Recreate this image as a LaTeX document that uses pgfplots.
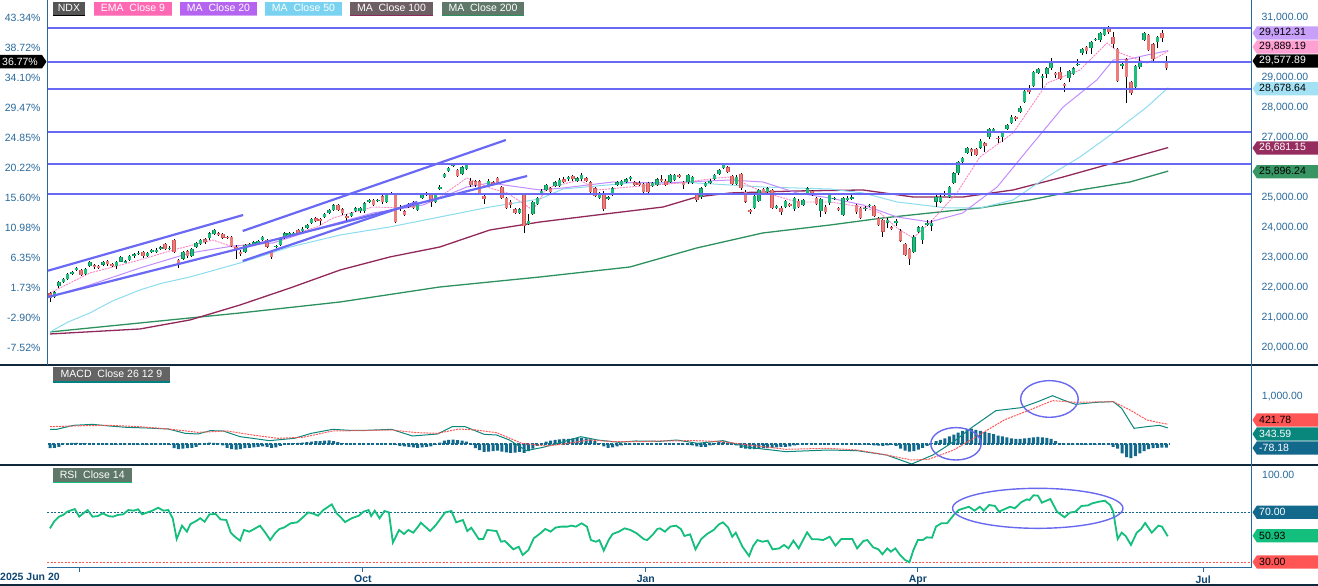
\documentclass[border=0pt]{standalone}
\usepackage{fontspec}
\setmainfont{Liberation Sans}
\usepackage{pgfplots}
\usepackage{pgfplotstable}
\pgfplotsset{compat=1.18}
\newcommand{\lab}{\fontsize{10.5bp}{12bp}\selectfont}
\definecolor{axblue}{RGB}{40,105,155}
\definecolor{xlab}{RGB}{15,70,115}
\definecolor{sep}{RGB}{15,40,60}
\definecolor{hl}{RGB}{105,105,245}
\definecolor{cup}{RGB}{30,190,125}
\definecolor{cupd}{RGB}{15,140,90}
\definecolor{cdn}{RGB}{235,125,125}
\definecolor{cdnd}{RGB}{205,85,85}
\definecolor{ema}{RGB}{255,130,195}
\definecolor{ma20}{RGB}{195,140,255}
\definecolor{ma50}{RGB}{140,220,240}
\definecolor{ma100}{RGB}{145,40,90}
\definecolor{ma200}{RGB}{45,145,95}
\definecolor{macdc}{RGB}{10,135,125}
\definecolor{sigc}{RGB}{255,85,85}
\definecolor{histc}{RGB}{18,105,140}
\definecolor{rsic}{RGB}{20,190,125}
\definecolor{ell}{RGB}{105,105,240}
\definecolor{bx20}{RGB}{200,160,250}
\definecolor{bxema}{RGB}{255,160,210}
\definecolor{bx50}{RGB}{165,225,245}
\definecolor{bx100}{RGB}{150,45,95}
\definecolor{bx200}{RGB}{55,150,100}
\definecolor{lgndx}{RGB}{85,85,85}
\definecolor{lgema}{RGB}{255,105,180}
\definecolor{lgma20}{RGB}{180,100,240}
\definecolor{lgma50}{RGB}{120,210,240}
\definecolor{lgma100}{RGB}{110,95,100}
\definecolor{lgma200}{RGB}{95,120,105}
\definecolor{macdlab}{RGB}{100,100,100}
\definecolor{rsilab}{RGB}{95,120,105}
\definecolor{teal2}{RGB}{0,128,128}

\pgfplotstableread{
i o h l c
0 21820 21850 21540 21660
1 21690 21900 21650 21850
2 22050 22230 21990 22190
3 22190 22340 22150 22300
4 22300 22500 22260 22460
5 22470 22580 22420 22530
6 22600 22700 22560 22660
7 22600 22640 22390 22430
8 22460 22680 22420 22630
9 22730 22900 22690 22860
10 22750 22800 22620 22690
11 22730 22780 22640 22690
12 22780 22900 22720 22860
13 22890 22940 22740 22800
14 22790 22830 22700 22750
15 22730 22900 22620 22860
16 22880 23080 22850 23030
17 22860 22930 22820 22880
18 22920 23110 22890 23070
19 23050 23160 23010 23120
20 23150 23240 23100 23170
21 23190 23230 23000 23050
22 23070 23200 23030 23160
23 23230 23290 23180 23250
24 23190 23320 23150 23280
25 23290 23390 23250 23350
26 23470 23510 23250 23290
27 23310 23390 23260 23330
28 23600 23640 23170 23210
29 22930 22970 22660 22770
30 22980 23230 22940 23190
31 23220 23260 23000 23050
32 23070 23340 23030 23300
33 23370 23540 23330 23500
34 23460 23640 23420 23600
35 23620 23680 23480 23520
36 23650 23860 23610 23820
37 23800 23980 23760 23930
38 23820 23860 23740 23780
39 23790 23830 23640 23680
40 23700 23740 23640 23680
41 23690 23730 23360 23400
42 23380 23420 22960 23270
43 23210 23250 23080 23120
44 23210 23470 23170 23430
45 23440 23510 23400 23470
46 23470 23560 23430 23520
47 23490 23610 23450 23570
48 23600 23730 23560 23690
49 23600 23640 23340 23380
50 23210 23250 22960 23020
51 23380 23440 23340 23400
52 23430 23660 23390 23620
53 23660 23860 23620 23820
54 23800 23860 23770 23820
55 23800 23860 23770 23820
56 23930 23970 23790 23820
57 23890 24020 23850 23980
58 24010 24140 23970 24100
59 24160 24340 24120 24300
60 24320 24360 24200 24230
61 24300 24340 24100 24220
62 24370 24500 24330 24460
63 24490 24640 24450 24600
64 24600 24790 24560 24750
65 24760 24800 24560 24600
66 24620 24660 24420 24490
67 24410 24450 24220 24320
68 24410 24530 24370 24490
69 24580 24690 24540 24650
70 24550 24710 24510 24670
71 24550 24860 24510 24820
72 24880 24970 24840 24930
73 24930 24970 24730 24770
74 24920 24980 24880 24940
75 25050 25090 24800 24850
76 24860 25160 24820 25120
77 25120 25190 25090 25140
78 25100 25140 24170 24210
79 24620 24750 24580 24710
80 24550 24590 24390 24430
81 24690 24830 24650 24790
82 24860 24900 24620 24660
83 24600 24840 24560 24800
84 24990 25170 24950 25130
85 25100 25190 25060 25150
86 25100 25140 24700 24860
87 24860 25140 24820 25100
88 25290 25420 25250 25380
89 25690 25840 25650 25800
90 25910 26030 25870 25990
91 26080 26180 26040 26130
92 25930 25970 25690 25730
93 25800 26060 25760 26020
94 25960 26140 25920 26100
95 25580 25650 25380 25420
96 25550 25590 25350 25430
97 25550 25590 25120 25160
98 25070 25110 24800 24960
99 25430 25620 25390 25580
100 25520 25560 25430 25470
101 25660 25700 25450 25490
102 25360 25400 24950 24990
103 24990 25030 24620 24660
104 24880 24920 24650 24770
105 24620 24660 24450 24490
106 24490 24660 24450 24620
107 25100 25140 23840 24050
108 24130 24450 24090 24230
109 24460 24900 24420 24860
110 24790 25030 24750 24990
111 25150 25300 25100 25240
112 25270 25480 25220 25430
113 25320 25360 25150 25210
114 25410 25570 25370 25520
115 25410 25650 25370 25600
116 25620 25700 25500 25540
117 25620 25740 25560 25690
118 25730 25780 25570 25620
119 25580 25700 25530 25650
120 25620 25820 25580 25770
121 25650 25700 25530 25580
122 25520 25560 25170 25210
123 25320 25360 25020 25070
124 24990 25200 24950 25150
125 25180 25220 24580 24620
126 24980 25070 24930 25020
127 25120 25360 25080 25320
128 25430 25560 25390 25520
129 25430 25610 25390 25570
130 25540 25660 25500 25620
131 25620 25730 25580 25690
132 25520 25560 25390 25430
133 25510 25550 25390 25430
134 25460 25500 25100 25210
135 25490 25530 25170 25210
136 25410 25530 25370 25490
137 25430 25660 25390 25620
138 25620 25750 25540 25580
139 25580 25620 25390 25430
140 25540 25810 25500 25770
141 25600 25810 25560 25770
142 25770 25810 25670 25710
143 25540 25580 25300 25430
144 25520 25810 25480 25770
145 25490 25730 25450 25690
146 25120 25160 24870 24930
147 25020 25360 24980 25320
148 25410 25530 25370 25490
149 25490 25620 25450 25580
150 25630 25810 25590 25770
151 25800 25970 25760 25930
152 25990 26150 25950 26100
153 26020 26060 25820 25860
154 25730 25770 25430 25470
155 25470 25750 25430 25710
156 25800 25840 25280 25320
157 25210 25250 24840 24880
158 24600 24640 24450 24520
159 24660 25110 24620 25070
160 24910 25310 24870 25270
161 25300 25340 25120 25160
162 25190 25360 25150 25320
163 25270 25310 24620 24660
164 24660 24770 24620 24730
165 24680 24720 24430 24540
166 24710 24940 24670 24900
167 24790 24830 24700 24740
168 24620 25030 24580 24990
169 24910 24950 24650 24690
170 24770 24970 24730 24930
171 25160 25360 25120 25320
172 25240 25280 25060 25100
173 24990 25030 24760 24800
174 24570 25010 24370 24970
175 24710 24750 24480 24520
176 24820 25140 24780 25100
177 24980 25040 24940 25000
178 24660 24700 24560 24600
179 24430 25030 24390 24990
180 24930 25060 24890 24990
181 24970 25100 24930 25020
182 24770 24810 24480 24520
183 24660 24700 24300 24340
184 24620 24720 24580 24680
185 24740 24800 24700 24760
186 24730 24770 24370 24410
187 24320 24360 24060 24100
188 24270 24310 23700 23880
189 24180 24340 24000 24270
190 24020 24060 23920 23960
191 24160 24300 24080 24230
192 23910 23950 23540 23580
193 23460 23500 23060 23100
194 23300 23340 22760 22960
195 23190 23750 23150 23710
196 23860 24060 23820 24020
197 23600 24080 23450 24040
198 24100 24250 24060 24180
199 24080 24270 23900 24160
200 24880 25090 24700 25040
201 24880 25090 24830 25040
202 25100 25220 25050 25180
203 25040 25400 25000 25360
204 25490 25860 25450 25820
205 25820 26230 25780 26190
206 26210 26380 26170 26330
207 26510 26700 26470 26660
208 26620 26660 26400 26540
209 26630 26670 26390 26430
210 26680 26950 26640 26910
211 26820 26860 26520 26740
212 27040 27330 26980 27290
213 27240 27330 27150 27290
214 27010 27050 26830 26960
215 27040 27220 26860 27180
216 27290 27470 27250 27430
217 27490 27750 27450 27710
218 27690 27730 27580 27620
219 27860 28050 27820 28010
220 28190 28610 28150 28570
221 28600 28750 28480 28520
222 28730 29230 28690 29190
223 29160 29330 29120 29290
224 29030 29130 28600 29060
225 29130 29360 29000 29320
226 29320 29650 29280 29540
227 29160 29200 29000 29100
228 29210 29370 28920 28960
229 28800 28840 28530 28740
230 28990 29280 28880 29240
231 29130 29360 29090 29320
232 29450 29620 29400 29470
233 29820 30000 29780 29960
234 30040 30080 29800 29910
235 29990 30230 29800 30190
236 30280 30340 30230 30300
237 30270 30530 30200 30490
238 30430 30670 30390 30620
239 30690 30740 30480 30520
240 30360 30520 30000 30120
241 29960 30000 28870 28910
242 29400 29530 29300 29470
243 29620 29660 28160 29040
244 28860 28900 28420 28490
245 28690 29440 28650 29400
246 29360 29700 29300 29580
247 30270 30530 30230 30490
248 30430 30470 29890 29930
249 30120 30160 29580 29620
250 30210 30400 29990 30360
251 30490 30600 30200 30320
252 29550 29730 29250 29330
}\candles

\pgfplotstableread{
i v
0 -90
1 -80
2 -60
3 10
4 20
5 25
6 25
7 20
8 15
9 10
10 5
11 -5
12 -10
13 -10
14 -15
15 -15
16 -10
17 -10
18 -10
19 -10
20 -15
21 -15
22 -15
23 -15
24 -10
25 -10
26 -5
27 -20
28 -90
29 -110
30 -100
31 -90
32 -80
33 -60
34 -10
35 10
36 30
37 25
38 10
39 -30
40 -80
41 -110
42 -120
43 -110
44 -90
45 -80
46 -70
47 -60
48 -50
49 -60
50 -80
51 -70
52 -40
53 -10
54 10
55 20
56 25
57 30
58 40
59 50
60 60
61 60
62 70
63 75
64 60
65 40
66 20
67 10
68 5
69 5
70 0
71 -5
72 5
73 0
74 5
75 -5
76 5
77 5
78 -20
79 -40
80 -50
81 -60
82 -70
83 -80
84 -70
85 -60
86 -50
87 -20
88 30
89 70
90 90
91 95
92 80
93 70
94 50
95 -20
96 -90
97 -130
98 -170
99 -160
100 -150
101 -140
102 -160
103 -180
104 -190
105 -185
106 -170
107 -190
108 -150
109 -100
110 -40
111 20
112 50
113 70
114 90
115 100
116 110
117 110
118 120
119 125
120 130
121 120
122 100
123 60
124 20
125 -50
126 -80
127 -70
128 -50
129 -30
130 -20
131 -10
132 -5
133 5
134 -5
135 5
136 0
137 5
138 5
139 0
140 5
141 5
142 0
143 -10
144 -20
145 -30
146 -50
147 -60
148 -60
149 -30
150 20
151 40
152 40
153 30
154 10
155 -30
156 -80
157 -100
158 -110
159 -110
160 -100
161 -90
162 -90
163 -80
164 -70
165 -60
166 -60
167 -50
168 -30
169 -10
170 5
171 10
172 5
173 -5
174 0
175 5
176 5
177 -5
178 -5
179 5
180 5
181 5
182 -10
183 -15
184 -10
185 -20
186 -30
187 -35
188 -40
189 -30
190 -20
191 -40
192 -100
193 -140
194 -160
195 -150
196 -120
197 -80
198 -40
199 20
200 60
201 90
202 120
203 160
204 200
205 240
206 280
207 310
208 325
209 300
210 280
211 250
212 230
213 210
214 180
215 160
216 140
217 120
218 110
219 110
220 120
221 130
222 140
223 150
224 140
225 130
226 110
227 60
228 10
229 -10
230 -15
231 -10
232 -15
233 -20
234 -15
235 -10
236 -15
237 -10
238 -10
239 -20
240 -60
241 -100
242 -200
243 -280
244 -300
245 -260
246 -200
247 -150
248 -110
249 -90
250 -80
251 -75
252 -78.18
}\hist

\newcommand{\rbox}[4]{%
  \fill[#2] (1252.5bp,#1bp) -- (1256.8bp,#1bp+6.6bp) -- (1330bp,#1bp+6.6bp) -- (1330bp,#1bp-6.6bp) -- (1256.8bp,#1bp-6.6bp) -- cycle;
  \node[anchor=west,inner sep=0pt,text=#3,font=\lab] at (1259bp,#1bp) {#4};}
\newcommand{\lgbox}[6]{%
  \fill[#3] (#1bp,571.3bp) rectangle (#2bp,584.3bp);
  \fill[#4] (#1bp,569.7bp) rectangle (#2bp,571.3bp);
  \node[text=#5,font=\lab,inner sep=0pt] at ({(#1+#2)/2*1bp},577.8bp) {#6};}

\begin{document}
\begin{tikzpicture}
\useasboundingbox (0,0) rectangle (1318bp,586bp);
\pgfplotsset{
  base/.style={scale only axis, anchor=south west, width=1204bp,
    xmin=-0.677, xmax=271.1, axis line style={draw=none},
    major tick length=0pt, xtick=\empty, ytick=\empty},
  body/.style={draw=none, mark=none, forget plot,
    error bars/y dir=both, error bars/y explicit, error bars/error mark=none},
}
% ---------------- main price panel ----------------
\begin{axis}[base, at={(47bp,221bp)}, height=365bp, ymin=19433, ymax=31600,
  ytick={20000,21000,22000,23000,24000,25000,26000,27000,28000,29000,30000,31000},
  yticklabels={-7.52\%,-2.90\%,1.73\%,6.35\%,10.98\%,15.60\%,20.22\%,24.85\%,29.47\%,34.10\%,38.72\%,43.34\%},
  yticklabel style={font=\lab, text=axblue, xshift=-3bp}]
\addplot[ma200, line width=1.3bp] coordinates {(0,20534) (20.3,20834) (42.9,21167) (65.5,21534) (88,22034) (110.6,22367) (130.9,22700) (146,23334) (160.9,23834) (176.1,24100) (188,24334) (202.5,24560) (209.9,24667) (221.2,24934) (232.5,25267) (243.8,25534) (252.4,25896)};
\addplot[ma100, line width=1.3bp] coordinates {(0,20467) (20.3,20634) (31.6,20934) (42.9,21434) (54.2,22000) (65.5,22600) (76.7,23034) (88,23367) (99.3,23934) (110.6,24200) (123.5,24434) (138.4,24700) (146,25034) (153.5,25167) (168.6,25234) (183.5,25267) (194.8,25034) (206.1,25034) (217.4,25267) (228.7,25700) (240,26167) (252.4,26681)};
\addplot[ma50, line width=1bp] coordinates {(0,20534) (4,20860) (9,21167) (14,21560) (20.3,21934) (25,22150) (31.6,22367) (42.9,22834) (54.2,23367) (65.5,23767) (76.7,24034) (88,24367) (99.3,24700) (110.6,24967) (115.8,25300) (130.9,25500) (146,25500) (160.9,25367) (176,25300) (183.5,25167) (191.2,24867) (202.5,24667) (210,24667) (217.4,24934) (225,25700) (232.5,26367) (240,27167) (247.6,28034) (252.4,28679)};
\addplot[ma20, line width=1bp] coordinates {(0,21700) (9,22100) (20.3,22667) (31.6,23167) (41.3,23400) (50.3,23500) (61.6,24034) (72.9,24500) (84.2,24767) (94.1,25367) (99.3,25500) (110.6,25267) (115.8,25334) (127.1,25534) (138.4,25500) (153.5,25600) (160.9,25534) (168.6,25167) (176,25000) (183.5,24767) (191.2,24367) (198.6,24200) (206,24500) (213.8,25367) (221.2,26700) (228.7,28034) (236.3,28934) (240,29600) (243.8,29634) (247.6,29767) (252.4,29912)};
\addplot[ema, line width=0.9bp, dash pattern=on 2bp off 1bp] coordinates {(0,21834) (9,22500) (20.3,22934) (27.8,23267) (36.8,23600) (41.3,23367) (50.3,23600) (60.3,24034) (63.9,24334) (72.9,24700) (80.6,24667) (88,25034) (94.1,25667) (99.3,25334) (103.2,25167) (109,24600) (112.2,25334) (119.6,25600) (123.5,25267) (130.9,25367) (142.2,25500) (150.6,25667) (153.5,25700) (160.9,25200) (168.6,24867) (176,24867) (183.5,24700) (187.4,24500) (191.2,24000) (194.8,23667) (198.6,24167) (204.7,25167) (209.9,26367) (217.4,27167) (225.1,28834) (232.5,29267) (238.6,30167) (241.5,29834) (247.6,29500) (252.4,29889)};
% candles: wicks
\addplot[body, error bars/error bar style={draw=black, line width=0.8bp}]
  table[x=i, y expr={0.5*(\thisrow{h}+\thisrow{l})}, y error expr={0.5*(\thisrow{h}-\thisrow{l})}] {\candles};
% up bodies
\addplot[body, restrict expr to domain={\thisrow{c}-\thisrow{o}}{0:1000000},
  error bars/error bar style={draw=cupd, line width=3.5bp}]
  table[x=i, y expr={0.5*(\thisrow{o}+\thisrow{c})}, y error expr={max(0.5*abs(\thisrow{c}-\thisrow{o}),16)}] {\candles};
\addplot[body, restrict expr to domain={\thisrow{c}-\thisrow{o}}{0:1000000},
  error bars/error bar style={draw=cup, line width=2.5bp}]
  table[x=i, y expr={0.5*(\thisrow{o}+\thisrow{c})}, y error expr={max(0.5*abs(\thisrow{c}-\thisrow{o})-6,10)}] {\candles};
% down bodies
\addplot[body, restrict expr to domain={\thisrow{c}-\thisrow{o}}{-1000000:-0.001},
  error bars/error bar style={draw=cdnd, line width=3.5bp}]
  table[x=i, y expr={0.5*(\thisrow{o}+\thisrow{c})}, y error expr={max(0.5*abs(\thisrow{c}-\thisrow{o}),16)}] {\candles};
\addplot[body, restrict expr to domain={\thisrow{c}-\thisrow{o}}{-1000000:-0.001},
  error bars/error bar style={draw=cdn, line width=2.5bp}]
  table[x=i, y expr={0.5*(\thisrow{o}+\thisrow{c})}, y error expr={max(0.5*abs(\thisrow{c}-\thisrow{o})-6,10)}] {\candles};
% horizontal levels
\addplot[hl, line width=2.2bp] coordinates {(-0.677,30677) (271.1,30677)};
\addplot[hl, line width=2.2bp] coordinates {(-0.677,29544) (271.1,29544)};
\addplot[hl, line width=2.2bp] coordinates {(-0.677,28644) (271.1,28644)};
\addplot[hl, line width=2.2bp] coordinates {(-0.677,27211) (271.1,27211)};
\addplot[hl, line width=2.2bp] coordinates {(-0.677,26144) (271.1,26144)};
\addplot[hl, line width=2.2bp] coordinates {(-0.677,25144) (271.1,25144)};
% trend lines
\addplot[hl, line width=2.2bp] coordinates {(-0.45,22577) (43.6,24433)};
\addplot[hl, line width=2.2bp] coordinates {(-0.45,21700) (107.7,25733)};
\addplot[hl, line width=2.2bp] coordinates {(43.5,23900) (102.9,26933)};
\addplot[hl, line width=2.2bp] coordinates {(43.5,22900) (82.9,24867)};
\end{axis}
% right price labels
\begin{axis}[base, at={(47bp,221bp)}, height=365bp, ymin=19433, ymax=31600,
  yticklabel pos=right,
  ytick={20000,21000,22000,23000,24000,25000,27000,28000,29000,31000},
  yticklabels={{20,000.00},{21,000.00},{22,000.00},{23,000.00},{24,000.00},{25,000.00},{27,000.00},{28,000.00},{29,000.00},{31,000.00}},
  yticklabel style={font=\lab, text=axblue, xshift=7bp}]
\addplot[draw=none] coordinates {(0,25000)};
\end{axis}
% ---------------- MACD panel ----------------
\begin{axis}[base, at={(47bp,121bp)}, height=100bp, ymin=-447, ymax=1681]
\addplot[ybar, bar width=3bp, fill=histc, draw=none] table[x=i,y=v] {\hist};
\addplot[histc, line width=1.3bp, dash pattern=on 3bp off 1.43bp] coordinates {(-0.5,0) (252.5,0)};
\addplot[macdc, line width=1bp] coordinates {(0,312) (1.5,312) (5.3,397) (9.6,418) (13.4,383) (17.2,355) (22,340) (26.7,319) (30.5,227) (33.4,213) (36.2,284) (39.1,277) (42.9,156) (45.7,121) (49.5,71) (55.2,121) (59,227) (63.8,312) (67.6,291) (71.4,291) (77.1,312) (81.8,170) (87.5,213) (90.8,369) (93.7,369) (98,206) (100.8,191) (103.7,85) (107.5,-142) (111.3,-71) (116,50) (119.8,156) (123.6,85) (128.4,36) (132.2,64) (137.7,57) (141.5,85) (146.2,14) (151.9,71) (157.6,-71) (166.1,-163) (175.6,-128) (182.2,-142) (188.8,-234) (194.5,-426) (199.3,-234) (204,50) (207.8,333) (213.5,709) (219.2,773) (223,901) (226.3,1028) (228.7,936) (231.5,844) (236.2,887) (240,901) (241.9,759) (244.7,333) (247.6,369) (250.4,397) (252.3,343.59)};
\addplot[sigc, line width=1bp, dash pattern=on 2bp off 1bp] coordinates {(0,369) (7.7,390) (13.4,397) (20.1,369) (26.7,319) (33.4,248) (40,277) (45.7,191) (51.4,121) (57.1,142) (63.8,277) (69.5,284) (77.1,298) (82.8,241) (87.5,227) (92.3,319) (96.1,298) (100.8,241) (106.5,14) (112.2,-43) (116,0) (121.7,85) (127.4,50) (133.1,50) (137.7,64) (145.3,71) (151.9,50) (157.6,-21) (166.1,-113) (175.6,-92) (182.2,-128) (188.8,-234) (194.5,-341) (198.3,-326) (204,-128) (209.7,191) (215.4,511) (221.1,723) (226.3,922) (231.5,887) (240,901) (243.8,723) (247.6,511) (250.4,454) (252.3,421.78)};
\draw[ell, line width=1.4bp] (axis cs:204.5,4) ellipse [x radius=25.2bp, y radius=16.2bp];
\draw[ell, line width=1.4bp] (axis cs:225.6,958) ellipse [x radius=28.8bp, y radius=18.3bp];
\end{axis}
% ---------------- RSI panel ----------------
\begin{axis}[base, at={(47bp,18bp)}, height=103bp, ymin=25.14, ymax=108.95,
  xtick={6.55,70.65,134.5,195.9,260.3}, xticklabels={,Oct,Jan,Apr,Jul},
  xtick pos=bottom, tick align=outside, major tick length=4bp,
  every tick/.style={axblue, line width=1bp},
  xticklabel style={font=\lab\bfseries, text=xlab}]
\addplot[histc, line width=0.9bp, dash pattern=on 2bp off 1.5bp] coordinates {(-0.677,70) (271.1,70)};
\addplot[sigc, line width=0.9bp, dash pattern=on 2bp off 1.5bp] coordinates {(-0.677,30) (271.1,30)};
\addplot[rsic, line width=1.8bp] coordinates {(0,57.4) (0.9,62.8) (2,66.9) (3,68.3) (3.9,71) (5.6,73.1) (6.6,66.9) (7.5,69.6) (8.5,72.3) (9.6,66.9) (10.8,67.4) (11.9,69.6) (13.2,67.4) (14.2,66.9) (15.3,68.3) (16.5,68.8) (17.7,72.3) (18.9,71.8) (19.9,72.9) (20.8,68.8) (22,70.4) (23.1,71.8) (24.4,74.2) (25.6,71.8) (26.7,72.3) (27.7,65.6) (28.6,48.7) (29.8,59.6) (30.9,54.7) (31.7,60.9) (33,63.4) (33.9,65.6) (34.9,62.8) (36,68.8) (37.4,69.1) (38.5,64.7) (39.8,64.2) (40.8,53.9) (41.9,50.1) (42.9,47.4) (43.8,56.1) (45,54.7) (46.1,56.9) (47.4,59.6) (48.6,53.9) (49.7,47.9) (50.8,53.4) (51.8,56.9) (52.9,58.2) (54.3,61.5) (55.8,62.3) (57.1,66.4) (58.3,70.4) (59.6,69.1) (60.5,67.7) (61.7,72.3) (63.6,76.9) (64.7,69.6) (65.5,66.9) (66.6,62.5) (68.1,65.6) (69.7,67.7) (70.8,71) (71.9,72.3) (72.5,67.4) (73.3,71.8) (74.4,65.6) (75.5,71.5) (76.5,70.4) (77.4,45.8) (78.8,56.1) (79.9,52.8) (80.9,56.1) (82,53.9) (83.1,58.8) (83.7,62) (84.7,58.8) (85.8,55.2) (87.1,60.1) (88.1,65) (89.2,70.4) (90.6,71.5) (91.7,62.3) (93.2,64.2) (94.2,55.2) (95.1,57.9) (96.8,48.6) (97.8,48.7) (98.7,56.1) (100.1,55.5) (100.8,55.2) (101.8,46.6) (102.7,47.1) (104.6,40.3) (105.8,42.5) (106.7,35.7) (108,39.8) (109.2,49.3) (110.7,53.4) (111.8,56.9) (113,54.7) (114.1,58) (115.4,58.8) (116.8,58.8) (117.7,59.6) (118.7,58.8) (120,61.5) (121.2,58.8) (122.1,47.9) (123.2,46.5) (124,47.9) (125,39.3) (126.1,47.9) (127,52.8) (128.4,54.7) (129.7,57.4) (131,56.1) (132.4,53.4) (134.1,48.5) (134.8,47.9) (136,52) (137.1,56.9) (137.7,57.4) (138.8,54.7) (140,58.8) (141.3,59.6) (142.4,56.9) (143.2,51.2) (144.5,52.5) (145.7,40.3) (147,48.7) (148.3,52.8) (149.8,56.1) (151,60.7) (151.9,62.3) (153.1,57.9) (154,50.6) (154.8,53.9) (156.3,42.5) (157.8,34.9) (158.7,43) (159.7,47.9) (160.8,46.5) (162,47.4) (163.1,40.3) (164.6,41.1) (165.7,43.9) (166.7,41.1) (167.8,47.4) (169,41.1) (170.9,54.2) (172,48.5) (173.3,48.5) (174.5,47.9) (176,50.6) (177.3,43.3) (178.6,48.7) (180,48.7) (181.1,48.7) (182.2,41.1) (183.6,47.1) (184.5,47.9) (185.8,42) (187,40.3) (187.9,36.3) (189,41.1) (189.8,38.4) (190.8,41.1) (191.9,35.7) (193,31.7) (194,29.8) (194.9,39.8) (195.9,47.9) (197,47.9) (197.9,50.1) (199.1,49.8) (200,58.8) (201.2,61.5) (202.5,61.5) (204,68.3) (205.1,72.3) (206.3,73.7) (207.4,75) (208.7,71.8) (209.9,75) (210.8,71.8) (212,76.4) (213.3,75.6) (214.2,71) (215.4,72.9) (216.7,75) (217.8,73.7) (219.2,78.6) (220.5,81) (221.1,80.4) (222,84.3) (223,84) (223.9,78.3) (225.8,81.3) (227.3,71) (229,66.4) (230.2,70.2) (231.5,71) (232.8,75.6) (234.3,76.1) (235.3,77.8) (236.8,79.1) (238.1,79.9) (239.3,76.4) (240,71) (241,48.7) (241.9,53.9) (242.8,51.2) (244,43.9) (245.3,53.9) (246.3,56.9) (247.2,61.8) (248.7,53.9) (250.2,59.6) (251,58.8) (252.3,50.93)};
\draw[ell, line width=1.4bp] (axis cs:222.96,73.7) ellipse [x radius=85.2bp, y radius=20bp];
\end{axis}
% ---------------- frame lines ----------------
\draw[sep, line width=2bp] (0,221bp) -- (1318bp,221bp);
\draw[sep, line width=2bp] (0,121bp) -- (1318bp,121bp);
\draw[sep, line width=2bp] (0,1bp) -- (1318bp,1bp);
\draw[axblue, line width=1bp] (1251.5bp,18bp) -- (1251.5bp,586bp);
\draw[axblue, line width=1bp] (47.5bp,221bp) -- (47.5bp,586bp);
\draw[axblue, line width=1bp] (47bp,18bp) -- (1251.5bp,18bp);
% x start label
\node[anchor=west, inner sep=0pt, font=\lab\bfseries, text=xlab] at (0bp,9bp) {2025 Jun 20};
% legend boxes
\lgbox{53}{85}{lgndx}{black}{white}{NDX}
\lgbox{94}{172}{lgema}{lgema!70!white}{white}{EMA\ \ Close 9}
\lgbox{180}{257}{lgma20}{lgma20!60!white}{white}{MA\ \ Close 20}
\lgbox{265}{342}{lgma50}{lgma50!70!white}{white}{MA\ \ Close 50}
\lgbox{350}{433}{lgma100}{ma100}{white}{MA\ \ Close 100}
\lgbox{442}{524}{lgma200}{ma200}{white}{MA\ \ Close 200}
% panel labels
\fill[macdlab] (53bp,205.3bp) rectangle (170bp,218.7bp);
\fill[teal2] (53bp,203.3bp) rectangle (170bp,205.3bp);
\node[text=white, font=\lab, inner sep=0pt] at (111.5bp,212bp) {MACD\ \ Close 26 12 9};
\fill[rsilab] (53bp,104.3bp) rectangle (131.7bp,117.7bp);
\fill[rsic] (53bp,102.7bp) rectangle (131.7bp,104.3bp);
\node[text=white, font=\lab, inner sep=0pt] at (92.3bp,111bp) {RSI\ \ Close 14};
% right value boxes (main)
\rbox{553}{bx20}{black}{29,912.31}
\rbox{539}{bxema}{black}{29,889.19}
\rbox{525}{black}{white}{29,577.89}
\rbox{497.3}{bx50}{black}{28,678.64}
\rbox{438}{bx100}{white}{26,681.15}
\rbox{414.3}{bx200}{black}{25,896.24}
% left value box
\fill[black] (0,531bp) -- (42bp,531bp) -- (46.5bp,524.3bp) -- (42bp,517.6bp) -- (0,517.6bp) -- cycle;
\node[anchor=west, inner sep=0pt, text=white, font=\lab] at (2bp,524.3bp) {36.77\%};
% MACD labels
\node[anchor=west, inner sep=0pt, text=axblue, font=\lab] at (1261.7bp,189.3bp) {1,000.00};
\rbox{166}{sigc}{black}{421.78}
\rbox{152}{macdc}{white}{343.59}
\rbox{138}{histc}{white}{-78.18}
% RSI labels
\node[anchor=west, inner sep=0pt, text=axblue, font=\lab] at (1262bp,111bp) {100.00};
\rbox{73.7}{histc}{white}{70.00}
\rbox{50.3}{rsic}{black}{50.93}
\rbox{24}{sigc}{black}{30.00}
\end{tikzpicture}
\end{document}
